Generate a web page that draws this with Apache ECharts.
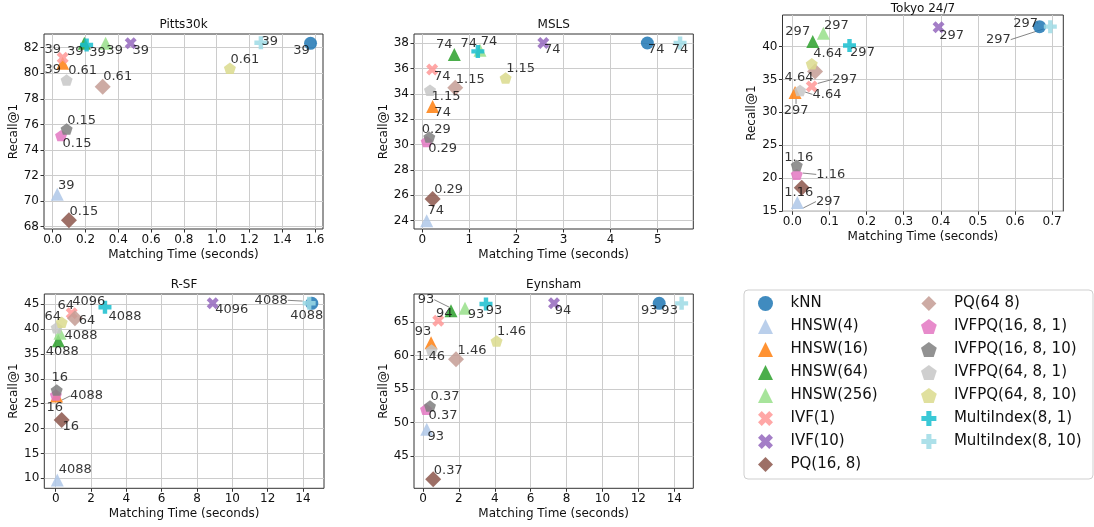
<!DOCTYPE html>
<html>
<head>
<meta charset="utf-8">
<script src="https://cdn.jsdelivr.net/npm/echarts@6/dist/echarts.min.js"></script>
<style>
html, body {margin: 0; padding: 0; background: #fff;}
#main {width: 1094px; height: 527px;}
</style>
</head>
<body>
<div id="main"></div>
<script>
var methods = ['kNN', 'HNSW(4)', 'HNSW(16)', 'HNSW(64)', 'HNSW(256)', 'IVF(1)', 'IVF(10)', 'PQ(16, 8)', 'PQ(64 8)',
    'IVFPQ(16, 8, 1)', 'IVFPQ(16, 8, 10)', 'IVFPQ(64, 8, 1)', 'IVFPQ(64, 8, 10)', 'MultiIndex(8, 1)', 'MultiIndex(8, 10)'];
var titles = ['Pitts30k', 'MSLS', 'Tokyo 24/7', 'R-SF', 'Eynsham'];

// Pitts30k
var pittsTime   = [1.573, 0.028, 0.061, 0.193, 0.323, 0.061, 0.476, 0.099, 0.305, 0.051, 0.085, 0.085, 1.081, 0.207, 1.27];
var pittsRecall = [82.34, 70.53, 80.78, 82.34, 82.34, 81.22, 82.34, 68.5, 78.95, 75.12, 75.64, 79.47, 80.39, 82.21, 82.39];
var pittsMem    = ['39', '39', '39', '39', '39', '39', '39', '0.15', '0.61', '0.15', '0.15', '0.61', '0.61', '39', '39'];
// MSLS
var mslsTime   = [4.78, 0.093, 0.22, 0.68, 1.226, 0.21, 2.57, 0.22, 0.70, 0.093, 0.149, 0.164, 1.77, 1.18, 5.475];
var mslsRecall = [38.0, 24.0, 33.0, 37.1, 37.42, 35.92, 38.0, 25.71, 34.48, 30.23, 30.58, 34.28, 35.24, 37.34, 38.0];
var mslsMem    = ['74', '74', '74', '74', '74', '74', '74', '0.29', '1.15', '0.29', '0.29', '1.15', '1.15', '74', '74'];
// Tokyo 24/7
var tokyoTime   = [0.666, 0.0135, 0.0073, 0.055, 0.0836, 0.0523, 0.394, 0.0253, 0.0612, 0.0119, 0.0119, 0.0208, 0.0523, 0.154, 0.695];
var tokyoRecall = [43.03, 16.27, 33.03, 40.76, 42.03, 33.94, 42.94, 18.55, 36.21, 20.56, 21.92, 33.33, 37.38, 40.15, 43.03];
var tokyoMem    = ['297', '297', '297', '297', '297', '297', '297', '1.16', '4.64', '1.16', '1.16', '4.64', '4.64', '297', '297'];
// R-SF
var rsfTime   = [14.5, 0.09, 0.05, 0.147, 0.24, 0.906, 8.89, 0.34, 1.09, 0.01, 0.057, 0.057, 0.34, 2.79, 14.35];
var rsfRecall = [45.2, 9.66, 26.56, 37.68, 39.17, 43.19, 45.2, 21.73, 42.18, 26.76, 27.76, 40.29, 41.38, 44.4, 45.2];
var rsfMem    = ['4088', '4088', '4088', '4088', '4088', '4096', '4096', '16', '64', '16', '16', '64', '64', '4088', '4088'];
// Eynsham
var eynTime   = [13.16, 0.21, 0.45, 1.56, 2.34, 0.85, 7.30, 0.57, 1.84, 0.17, 0.39, 0.48, 4.1, 3.51, 14.41];
var eynRecall = [67.84, 48.98, 61.95, 66.74, 67.1, 65.24, 67.84, 41.5, 59.46, 51.98, 52.47, 60.85, 62.2, 67.74, 67.84];
var eynMem    = ['93', '93', '93', '93', '93', '94', '94', '0.37', '1.46', '0.37', '0.37', '1.46', '1.46', '93', '93'];

// tick values
var pittsXTicks = [0, 0.2, 0.4, 0.6, 0.8, 1.0, 1.2, 1.4, 1.6];
var pittsYTicks = [68, 70, 72, 74, 76, 78, 80, 82];
var mslsXTicks = [0, 1, 2, 3, 4, 5];
var mslsYTicks = [24, 26, 28, 30, 32, 34, 36, 38];
var tokyoXTicks = [0, 0.1, 0.2, 0.3, 0.4, 0.5, 0.6, 0.7];
var tokyoYTicks = [15, 20, 25, 30, 35, 40];
var rsfXTicks = [0, 2, 4, 6, 8, 10, 12, 14];
var rsfYTicks = [10, 15, 20, 25, 30, 35, 40, 45];
var eynXTicks = [0, 2, 4, 6, 8, 10, 12, 14];
var eynYTicks = [45, 50, 55, 60, 65];

var times = [pittsTime, mslsTime, tokyoTime, rsfTime, eynTime];
var recalls = [pittsRecall, mslsRecall, tokyoRecall, rsfRecall, eynRecall];
var mems = [pittsMem, mslsMem, tokyoMem, rsfMem, eynMem];
var xTicks = [pittsXTicks, mslsXTicks, tokyoXTicks, rsfXTicks, eynXTicks];
var yTicks = [pittsYTicks, mslsYTicks, tokyoYTicks, rsfYTicks, eynYTicks];

// ---- styles / layout ----
var colors = ['#1f77b4', '#aec7e8', '#ff7f0e', '#2ca02c', '#98df8a', '#ff9896', '#9467bd', '#8c564b', '#c49c94',
    '#e377c2', '#7f7f7f', '#c7c7c7', '#dbdb8d', '#17becf', '#9edae5'];
var triUp = 'path://M5,0 L10,10 L0,10 Z';
var cross = 'path://M0,2.5 L2.5,0 L5,2.5 L7.5,0 L10,2.5 L7.5,5 L10,7.5 L7.5,10 L5,7.5 L2.5,10 L0,7.5 L2.5,5 Z';
var diamond = 'path://M5,0 L10,5 L5,10 L0,5 Z';
var penta = 'path://M5,0 L9.755,3.455 L7.94,9.045 L2.06,9.045 L0.245,3.455 Z';
var plus = 'path://M3.3,0 L6.7,0 L6.7,3.3 L10,3.3 L10,6.7 L6.7,6.7 L6.7,10 L3.3,10 L3.3,6.7 L0,6.7 L0,3.3 L3.3,3.3 Z';
var symbols = ['circle', triUp, triUp, triUp, triUp, cross, cross, diamond, diamond, penta, penta, penta, penta, plus, plus];
var symbolSizes = [13, 13, 13, 13, 13, 12, 12, 16, 16, 12, 12, 12, 12, 13, 13];

var grids = [
    {left: 44, top: 34, width: 279, height: 195},
    {left: 414, top: 34, width: 279.3, height: 195},
    {left: 782.5, top: 15, width: 280.8, height: 196.3},
    {left: 44.3, top: 294, width: 279.7, height: 194.3},
    {left: 414, top: 294, width: 279.3, height: 194.3}
];
var xRange = [[-0.053, 1.649], [-0.176, 5.756], [-0.0265, 0.730], [-0.645, 15.19], [-0.50, 15.06]];
var yRange = [[67.82, 83.07], [23.34, 38.71], [14.95, 44.8], [7.99, 47.07], [40.16, 69.24]];
var xSplit = [8, 5, 7, 8, 8];
var ySplit = [8, 8, 6, 8, 6];
var xDec = [1, 0, 1, 0, 0];
var titlePos = [[183.5, 25], [553.7, 25], [923, 8.5], [184, 285], [553.7, 285]];

// label centre relative to marker centre (px)
var labelOffsets = [
    [[-9, 7], [9, -9], [-10, 6], [-9, 8], [9, 7], [-10, -8], [10, 7], [15, -9], [15, -10], [16, 8], [15, -8], [16, -9], [15, -9], [11, 8], [9, -1]],
    [[9, 7], [9, -10], [10, 6], [-10, -10], [9, -9], [10, 7], [9, 7], [16, -9], [15, -8], [16, 7], [7, -8], [16, 6], [15, -9], [-9, -8], [0, 7]],
    [[-14, -3], [31, -1], [1, 18], [-15, -10], [13, -8], [33, -7], [13, 8], [-3, 5], [-16, 6], [34, 0], [2, -8], [27, 4], [16, -10], [13, 7], [-52, 13]],
    [[-5, 12], [18, -10], [30, 0], [4, 11], [21, 2], [17, -12], [19, 6], [9, 7], [12, 2], [-1, 13], [3, -12], [-4, -11], [4, -17], [20, 9], [-38, -3]],
    [[-10, 7], [9, 7], [-8, -11], [-25, -11], [11, 6], [6, -7], [9, 7], [15, -9], [16, -9], [17, 6], [15, -9], [-1, 7], [15, -9], [8, 7], [-12, 7]]
];
var arrows = [[], [], [0, 1, 2, 5, 9, 11, 14], [2, 14], [3]];

var txt = '#111';
var font = 'DejaVu Sans';

function makeSeries(d, m) {
    var off = labelOffsets[d][m];
    return {
        type: 'scatter',
        name: methods[m],
        xAxisIndex: d,
        yAxisIndex: d,
        symbol: symbols[m],
        symbolSize: symbolSizes[m],
        symbolKeepAspect: true,
        itemStyle: {color: colors[m], opacity: 0.85},
        data: [[times[d][m], recalls[d][m]]],
        label: {show: true, formatter: mems[d][m], fontSize: 13, color: txt, fontFamily: font},
        labelLayout: function (p) {
            return {
                x: p.rect.x + p.rect.width / 2 + off[0],
                y: p.rect.y + p.rect.height / 2 + off[1],
                align: 'center',
                verticalAlign: 'middle'
            };
        },
        labelLine: {show: arrows[d].indexOf(m) >= 0, lineStyle: {color: '#666', width: 0.8}},
        emphasis: {disabled: true}
    };
}

var gridList = [], xAxes = [], yAxes = [], series = [], graphics = [];
for (var d = 0; d < 5; d++) {
    gridList.push({
        left: grids[d].left, top: grids[d].top, width: grids[d].width, height: grids[d].height,
        show: true, borderColor: '#333', borderWidth: 1, containLabel: false
    });
    (function (d) {
        xAxes.push({
            gridIndex: d, type: 'value', min: xRange[d][0], max: xRange[d][1], splitNumber: xSplit[d],
            name: 'Matching Time (seconds)', nameLocation: 'middle', nameGap: 20,
            nameTextStyle: {fontSize: 12, color: txt, fontFamily: font},
            axisLine: {show: false, onZero: false},
            axisTick: {show: true, length: 3.5, customValues: xTicks[d], lineStyle: {color: '#333'}},
            axisLabel: {
                customValues: xTicks[d], fontSize: 12, color: txt, margin: 5, fontFamily: font,
                formatter: function (v) { return v.toFixed(xDec[d]); }
            },
            splitLine: {show: true, lineStyle: {color: '#cccccc', width: 1}}
        });
    })(d);
    yAxes.push({
        gridIndex: d, type: 'value', min: yRange[d][0], max: yRange[d][1], splitNumber: ySplit[d],
        name: 'Recall@1', nameLocation: 'middle', nameGap: d === 2 ? 23 : 24,
        nameTextStyle: {fontSize: 12, color: txt, fontFamily: font},
        axisLine: {show: false, onZero: false},
        axisTick: {show: true, length: 3.5, customValues: yTicks[d], lineStyle: {color: '#333'}},
        axisLabel: {customValues: yTicks[d], fontSize: 12, color: txt, margin: 5, fontFamily: font},
        splitLine: {show: true, lineStyle: {color: '#cccccc', width: 1}}
    });
    for (var m = 0; m < methods.length; m++) {
        series.push(makeSeries(d, m));
    }
    graphics.push({
        type: 'text', x: titlePos[d][0], y: titlePos[d][1],
        style: {text: titles[d], fontSize: 12, fontFamily: font, fill: txt, align: 'center', verticalAlign: 'middle'}
    });
}
// legend frame
graphics.push({
    type: 'rect', shape: {x: 744, y: 290, width: 349, height: 189, r: 4},
    style: {fill: 'none', stroke: '#cfcfcf', lineWidth: 1}
});

var legendCommon = {
    orient: 'vertical', itemWidth: 40, itemHeight: 15, itemGap: 8, symbolKeepAspect: true,
    selectedMode: false, textStyle: {fontSize: 15, color: txt, fontFamily: font}
};
var legendLeft = Object.assign({left: 753, top: 291, data: methods.slice(0, 8)}, legendCommon);
var legendRight = Object.assign({left: 916, top: 291, data: methods.slice(8)}, legendCommon);

var myChart = echarts.init(document.getElementById('main'));
option = {
    animation: false,
    backgroundColor: '#fff',
    textStyle: {fontFamily: font},
    grid: gridList,
    xAxis: xAxes,
    yAxis: yAxes,
    legend: [legendLeft, legendRight],
    graphic: graphics,
    series: series
};
myChart.setOption(option);
</script>
</body>
</html>
